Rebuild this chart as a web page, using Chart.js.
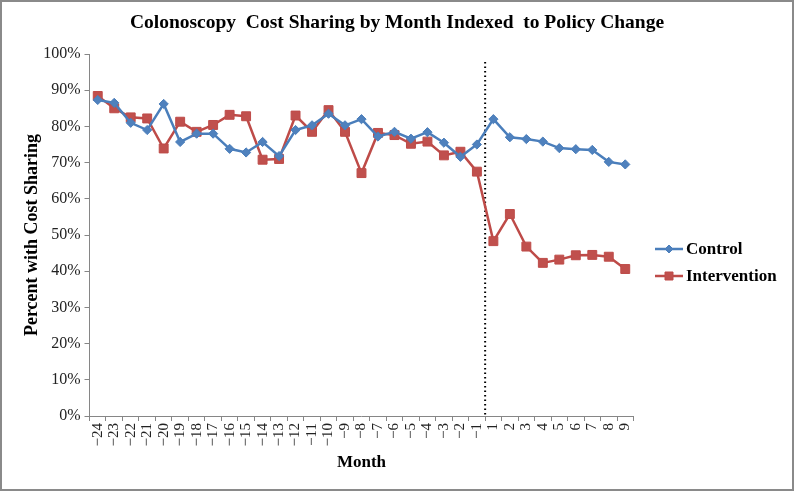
<!DOCTYPE html>
<html>
<head>
<meta charset="utf-8">
<script src="https://cdn.jsdelivr.net/npm/chart.js@4.4.1/dist/chart.umd.min.js"></script>
<style>
  html, body { margin: 0; padding: 0; background: #fff; }
  #wrap { width: 794px; height: 491px; }
</style>
</head>
<body>
<div id="wrap"><canvas id="c" width="794" height="491"></canvas></div>
<script>
const chartTitle = 'Colonoscopy  Cost Sharing by Month Indexed  to Policy Change';
const months = ['\u221224','\u221223','\u221222','\u221221','\u221220','\u221219','\u221218','\u221217','\u221216','\u221215','\u221214','\u221213','\u221212','\u221211','\u221210','\u22129','\u22128','\u22127','\u22126','\u22125','\u22124','\u22123','\u22122','\u22121','1','2','3','4','5','6','7','8','9'];
const controlValues = [87.3,86.5,81.0,79.0,86.2,75.7,78.0,78.0,73.8,72.8,75.7,71.8,79.0,80.3,83.5,80.3,82.0,77.2,78.5,76.6,78.4,75.5,71.6,75.0,82.0,77.0,76.5,75.8,74.0,73.7,73.5,70.2,69.5];
const interventionValues = [88.4,85.0,82.5,82.2,73.9,81.3,78.5,80.4,83.2,82.8,70.8,71.0,83.0,78.5,84.5,78.5,67.1,78.2,77.6,75.2,75.8,72.0,73.0,67.5,48.3,55.8,46.8,42.3,43.2,44.4,44.5,44.0,40.6];
const yTicks = [0,10,20,30,40,50,60,70,80,90,100];

const serif = "'Liberation Serif', 'Times New Roman', serif";
const blue = '#4A7EBB', blueFill = '#4F81BD';
const red = '#BE4B48', redFill = '#C0504D';

const bgBorder = {
  id: 'bgBorder',
  beforeDraw(chart) {
    const ctx = chart.ctx;
    ctx.save();
    ctx.fillStyle = '#fff';
    ctx.fillRect(0, 0, chart.width, chart.height);
    ctx.strokeStyle = '#8a8a8a';
    ctx.lineWidth = 2;
    ctx.strokeRect(1, 1, chart.width - 2, chart.height - 2);
    ctx.fillStyle = '#000';
    ctx.font = 'bold 19.5px ' + serif;
    ctx.textAlign = 'center';
    ctx.textBaseline = 'middle';
    ctx.fillText(chartTitle, 397, 23);
    ctx.restore();
  }
};

const policyLine = {
  id: 'policyLine',
  beforeDatasetsDraw(chart) {
    const x = chart.scales.x, y = chart.scales.y;
    const px = (x.getPixelForValue(23) + x.getPixelForValue(24)) / 2;
    const ctx = chart.ctx;
    ctx.save();
    ctx.strokeStyle = '#000';
    ctx.lineWidth = 2;
    ctx.setLineDash([1.5, 3]);
    ctx.beginPath();
    ctx.moveTo(px, y.getPixelForValue(97.8));
    ctx.lineTo(px, y.getPixelForValue(0));
    ctx.stroke();
    ctx.restore();
  }
};

const sideLegend = {
  id: 'sideLegend',
  afterDraw(chart) {
    const ctx = chart.ctx;
    const items = [
      { ds: chart.data.datasets[0], y: 249 },
      { ds: chart.data.datasets[1], y: 276 }
    ];
    ctx.save();
    items.forEach(it => {
      ctx.strokeStyle = it.ds.borderColor;
      ctx.lineWidth = 2.5;
      ctx.beginPath();
      ctx.moveTo(655, it.y);
      ctx.lineTo(683, it.y);
      ctx.stroke();
      ctx.fillStyle = it.ds.pointBackgroundColor;
      ctx.strokeStyle = it.ds.pointBorderColor;
      ctx.lineWidth = 1;
      ctx.beginPath();
      if (it.ds.pointStyle === 'rect') {
        ctx.rect(665, it.y - 4, 8, 8);
      } else {
        ctx.moveTo(669, it.y - 4); ctx.lineTo(673, it.y); ctx.lineTo(669, it.y + 4); ctx.lineTo(665, it.y);
        ctx.closePath();
      }
      ctx.fill();
      ctx.stroke();
      ctx.fillStyle = '#000';
      ctx.font = 'bold 17px ' + serif;
      ctx.textBaseline = 'middle';
      ctx.textAlign = 'left';
      ctx.fillText(it.ds.label, 686, it.y + 1);
    });
    ctx.restore();
  }
};

new Chart(document.getElementById('c'), {
  type: 'line',
  data: {
    labels: months,
    datasets: [
      {
        label: 'Control',
        data: controlValues,
        borderColor: blue,
        borderWidth: 2.5,
        pointStyle: 'rectRot',
        pointRadius: 4.6,
        pointBackgroundColor: blueFill,
        pointBorderColor: blue,
        pointBorderWidth: 1,
        tension: 0
      },
      {
        label: 'Intervention',
        data: interventionValues,
        borderColor: red,
        borderWidth: 2.5,
        pointStyle: 'rect',
        pointRadius: 6.3,
        pointBackgroundColor: redFill,
        pointBorderColor: red,
        pointBorderWidth: 1,
        tension: 0
      }
    ]
  },
  options: {
    responsive: false,
    animation: false,
    devicePixelRatio: 1,
    layout: { padding: { left: 14, right: 160.5, top: 54, bottom: 18 } },
    plugins: {
      legend: { display: false },
      tooltip: { enabled: false },
      title: { display: false }
    },
    scales: {
      x: {
        type: 'category',
        offset: true,
        grid: { display: true, drawOnChartArea: false, drawTicks: true, tickLength: 5, color: '#868686', offset: true },
        border: { display: true, color: '#868686', width: 1 },
        ticks: { color: '#222', font: { family: serif, size: 15 }, minRotation: 90, maxRotation: 90, padding: 2, autoSkip: false },
        title: { display: true, text: 'Month', color: '#000', font: { family: serif, size: 17, weight: 'bold' }, padding: { top: 10, bottom: 0 } },
        afterFit(scale) { scale.height = 491 - 18 - 416; }
      },
      y: {
        min: 0, max: 100,
        afterBuildTicks(scale) { scale.ticks = yTicks.map(v => ({ value: v })); },
        grid: { display: true, drawOnChartArea: false, drawTicks: true, tickLength: 5, color: '#868686' },
        border: { display: true, color: '#868686', width: 1 },
        ticks: { color: '#222', font: { family: serif, size: 16 }, padding: 4, callback: v => v + '%' },
        title: { display: true, text: 'Percent with Cost Sharing', color: '#000', font: { family: serif, size: 18, weight: 'bold' }, padding: { top: 8, bottom: 0 } },
        afterFit(scale) { scale.width = 89.5 - 14; }
      }
    }
  },
  plugins: [bgBorder, policyLine, sideLegend]
});
</script>
</body>
</html>
